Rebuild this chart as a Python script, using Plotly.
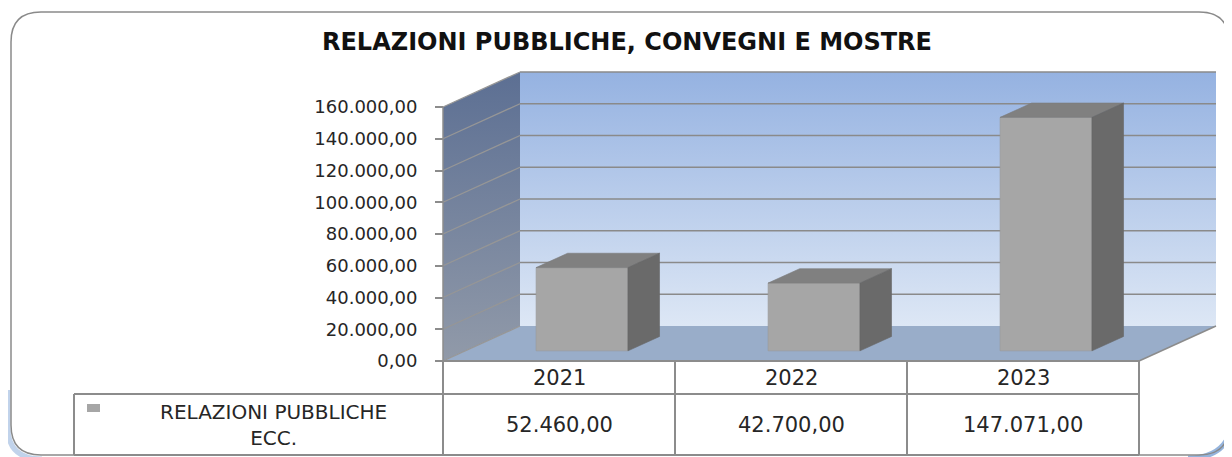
import plotly.graph_objects as go

# ---------------- data ----------------
title_text = "RELAZIONI PUBBLICHE, CONVEGNI E MOSTRE"
years = ["2021", "2022", "2023"]
values = [52460.00, 42700.00, 147071.00]
series_name = "RELAZIONI PUBBLICHE ECC."
tick_values = [0, 20000, 40000, 60000, 80000, 100000, 120000, 140000, 160000]


def it_num(v):
    s = f"{v:,.2f}"
    return s.replace(",", "X").replace(".", ",").replace("X", ".")


# ---------------- geometry (screen pixels of the 3D frame) ----------------
OFF = 8                                  # page body margin
W, H = 1232 - OFF, 457 - OFF             # figure size
L, R, T, B = 60, 1225, 60, 456           # plot area in screen pixels
X0, Y0 = 443, 361                        # screen pixel of category 0 / value 0 on the front plane
PXC = 232                                # pixels per category
PXV = 31.75 / 20000                      # pixels per value unit
xr = [(L - X0) / PXC, (R - X0) / PXC]
yr = [(Y0 - B) / PXV, (Y0 - T) / PXV]
DX = 77 / PXC                            # depth offset in category units
DY = 35 / PXV                            # depth offset in value units
VMAX = tick_values[-1]
N = len(years)
D1, D2 = 0.29, 0.70                      # bar depth
BAR_L, BAR_R = 0.305, 0.701              # bar extent inside category


def dxp(px):
    return (px - X0) / PXC


def dyp(py):
    return (Y0 - py) / PXV


def P(c, v, d):
    return c + d * DX, v + d * DY


def poly(pts):
    xs, ys = zip(*[P(*p) for p in pts])
    return list(xs) + [xs[0]], list(ys) + [ys[0]]


def segs(pairs):
    xs, ys = [], []
    for a, b in pairs:
        pa, pb = P(*a), P(*b)
        xs += [pa[0], pb[0], None]
        ys += [pa[1], pb[1], None]
    return xs, ys


fig = go.Figure()

# back wall
bx, by = poly([(0, 0, 1), (N, 0, 1), (N, VMAX, 1), (0, VMAX, 1)])
fig.add_trace(go.Scatter(x=bx, y=by, mode="lines", fill="toself", line=dict(width=0),
                         fillgradient=dict(type="vertical",
                                           colorscale=[[0, "#dde7f5"], [1, "#95b2e1"]]),
                         hoverinfo="skip", showlegend=False))
# side wall
sx, sy = poly([(0, 0, 0), (0, 0, 1), (0, VMAX, 1), (0, VMAX, 0)])
fig.add_trace(go.Scatter(x=sx, y=sy, mode="lines", fill="toself", line=dict(width=0),
                         fillgradient=dict(type="vertical",
                                           colorscale=[[0, "#919aa9"], [1, "#5c6f93"]]),
                         hoverinfo="skip", showlegend=False))
# floor
fx, fy = poly([(0, 0, 0), (N, 0, 0), (N, 0, 1), (0, 0, 1)])
fig.add_trace(go.Scatter(x=fx, y=fy, mode="lines", fill="toself", line=dict(width=0),
                         fillcolor="#99adc9", hoverinfo="skip", showlegend=False))
# gridlines (back wall + side wall)
gx, gy = segs([((0, v, 1), (N, v, 1)) for v in tick_values[1:]])
fig.add_trace(go.Scatter(x=gx, y=gy, mode="lines", line=dict(color="#8a8a8a", width=1.5),
                         hoverinfo="skip", showlegend=False))
gx2, gy2 = segs([((0, v, 0), (0, v, 1)) for v in tick_values])
fig.add_trace(go.Scatter(x=gx2, y=gy2, mode="lines", line=dict(color="#969696", width=1.3),
                         hoverinfo="skip", showlegend=False))
# edges
ex, ey = segs([((0, 0, 0), (0, VMAX, 0)), ((N, 0, 0), (N, 0, 1))])
fig.add_trace(go.Scatter(x=ex, y=ey, mode="lines", line=dict(color="#8c8c8c", width=1.5),
                         hoverinfo="skip", showlegend=False))

# ---------------- bars (overlay subplot, drawn on top of walls) ----------------
bar_x = [i + (BAR_L + BAR_R) / 2 + D1 * DX for i in range(N)]
fig.add_trace(go.Bar(x=bar_x, y=values, base=[D1 * DY] * N, width=BAR_R - BAR_L,
                     marker=dict(color="#a6a6a6", line=dict(color="#9a9a9a", width=0.6)),
                     name=series_name, xaxis="x2", yaxis="y2", showlegend=False,
                     hoverinfo="skip"))
for i, v in enumerate(values):
    tx, ty = poly([(i + BAR_L, v, D1), (i + BAR_R, v, D1), (i + BAR_R, v, D2), (i + BAR_L, v, D2)])
    fig.add_trace(go.Scatter(x=tx, y=ty, mode="lines", fill="toself", fillcolor="#808080",
                             line=dict(color="#7a7a7a", width=0.6), xaxis="x2", yaxis="y2",
                             hoverinfo="skip", showlegend=False))
    rx, ry = poly([(i + BAR_R, 0, D1), (i + BAR_R, 0, D2), (i + BAR_R, v, D2), (i + BAR_R, v, D1)])
    fig.add_trace(go.Scatter(x=rx, y=ry, mode="lines", fill="toself", fillcolor="#6a6a6a",
                             line=dict(color="#666666", width=0.6), xaxis="x2", yaxis="y2",
                             hoverinfo="skip", showlegend=False))

# ---------------- data table ----------------
h_bot = dyp(394)
t_bot = dyp(455)
left_c = dxp(74)
line_style = dict(color="#8c8c8c", width=2)
shapes = []
for c in range(N + 1):
    shapes.append(dict(type="line", xref="x", yref="y", x0=c, x1=c, y0=0, y1=t_bot, line=line_style))
shapes.append(dict(type="line", xref="x", yref="y", x0=0, x1=N, y0=0, y1=0, line=line_style))
shapes.append(dict(type="line", xref="x", yref="y", x0=left_c, x1=N, y0=h_bot, y1=h_bot, line=line_style))
shapes.append(dict(type="line", xref="x", yref="y", x0=left_c, x1=N, y0=t_bot, y1=t_bot, line=line_style))
shapes.append(dict(type="line", xref="x", yref="y", x0=left_c, x1=left_c, y0=h_bot, y1=t_bot, line=line_style))
# legend key
shapes.append(dict(type="rect", xref="x", yref="y", x0=dxp(87), x1=dxp(100), y0=dyp(404), y1=dyp(412),
                   fillcolor="#a6a6a6", line=dict(width=0)))

annotations = []
tfont = dict(family="DejaVu Sans", size=21, color="#262626")
for i, (yr_lbl, v) in enumerate(zip(years, values)):
    annotations.append(dict(x=i + 0.5, y=(0 + h_bot) / 2, xref="x", yref="y", text=yr_lbl,
                            showarrow=False, font=tfont, xanchor="center", yanchor="middle"))
    annotations.append(dict(x=i + 0.5, y=(h_bot + t_bot) / 2, xref="x", yref="y", text=it_num(v),
                            showarrow=False, font=tfont, xanchor="center", yanchor="middle"))
annotations.append(dict(x=dxp(273), y=(h_bot + t_bot) / 2, xref="x", yref="y",
                        text="RELAZIONI PUBBLICHE<br>ECC.", showarrow=False,
                        font=dict(family="DejaVu Sans", size=20, color="#262626"),
                        xanchor="center", yanchor="middle", align="center"))


# ---------------- outer rounded border ----------------
def pp(px, py):
    return (px - L) / (R - L), (B - py) / (B - T)


def path_of(cmds):
    s = ""
    for cmd, ps in cmds:
        s += cmd + " " + " ".join(f"{pp(*p)[0]:.5f},{pp(*p)[1]:.5f}" for p in ps) + " "
    return s


def rounded(x0, y0, x1, y1, r):
    return path_of([("M", [(x0 + r, y0)]), ("L", [(x1 - r, y0)]), ("Q", [(x1, y0), (x1, y0 + r)]),
                    ("L", [(x1, y1 - r)]), ("Q", [(x1, y1), (x1 - r, y1)]), ("L", [(x0 + r, y1)]),
                    ("Q", [(x0, y1), (x0, y1 - r)]), ("L", [(x0, y0 + r)]),
                    ("Q", [(x0, y0), (x0 + r, y0)])]) + "Z"


# soft blue shadow at the lower corners
shapes.append(dict(type="path", xref="paper", yref="paper",
                   path=path_of([("M", [(8, 390)]), ("L", [(8, 428)]), ("Q", [(8, 459), (42, 459)])]),
                   line=dict(color="#4f83c8", width=5), opacity=0.35, layer="below"))
shapes.append(dict(type="path", xref="paper", yref="paper",
                   path=path_of([("M", [(1188, 458)]), ("Q", [(1231, 458), (1232, 418)])]),
                   line=dict(color="#4f83c8", width=5), opacity=0.6, layer="below"))
shapes.append(dict(type="path", xref="paper", yref="paper", path=rounded(11, 12, 1229, 455, 30),
                   line=dict(color="#8a8a8a", width=1.5), layer="above"))

fig.update_layout(
    width=W, height=H,
    margin=dict(l=L - OFF, r=(OFF + W) - R, t=T - OFF, b=(OFF + H) - B),
    paper_bgcolor="white", plot_bgcolor="rgba(0,0,0,0)",
    title=dict(text=title_text, x=(627 - OFF) / W, y=1 - (42 - OFF) / H,
               xref="container", yref="container", xanchor="center", yanchor="middle",
               font=dict(family="DejaVu Sans", size=24, color="#111111", weight="bold")),
    xaxis=dict(range=xr, visible=False, fixedrange=True),
    yaxis=dict(range=yr, anchor="free", position=(0 - xr[0]) / (xr[1] - xr[0]),
               tickmode="array", tickvals=tick_values,
               ticktext=[it_num(v) for v in tick_values],
               ticks="outside", ticklen=8, tickwidth=1.5, tickcolor="#8c8c8c",
               ticklabelstandoff=14,
               showgrid=False, zeroline=False, showline=False, fixedrange=True,
               tickfont=dict(family="DejaVu Sans", size=18, color="#262626")),
    xaxis2=dict(range=xr, overlaying="x", visible=False, fixedrange=True, anchor="y2"),
    yaxis2=dict(range=yr, overlaying="y", visible=False, fixedrange=True, anchor="x2"),
    shapes=shapes, annotations=annotations, showlegend=False,
)

fig.write_html("out.html")
